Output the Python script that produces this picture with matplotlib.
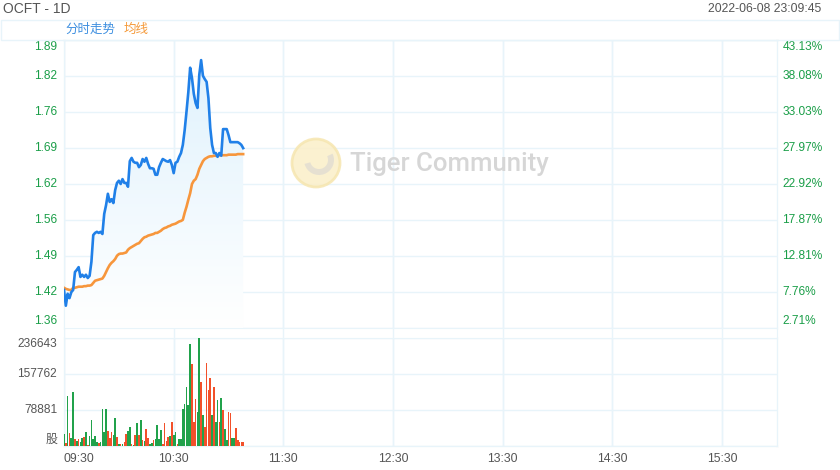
import numpy as np
import matplotlib.pyplot as plt
from matplotlib.patches import Circle, Rectangle, Wedge
from matplotlib.colors import LinearSegmentedColormap

plt.rcParams['font.family'] = ['Liberation Sans', 'Noto Sans CJK SC', 'DejaVu Sans']

# minutes since 09:30
minutes = list(range(99))

price = [1.430, 1.401, 1.423, 1.415, 1.426, 1.430, 1.463, 1.467, 1.472, 1.454,
         1.458, 1.454, 1.458, 1.452, 1.456, 1.482, 1.531, 1.535, 1.537, 1.535,
         1.537, 1.533, 1.570, 1.586, 1.607, 1.592, 1.597, 1.590, 1.614, 1.627,
         1.631, 1.625, 1.634, 1.627, 1.627, 1.620, 1.667, 1.673, 1.666, 1.664,
         1.664, 1.656, 1.660, 1.671, 1.666, 1.673, 1.662, 1.654, 1.654, 1.653,
         1.642, 1.642, 1.656, 1.664, 1.671, 1.669, 1.667, 1.666, 1.669, 1.660,
         1.645, 1.664, 1.666, 1.675, 1.682, 1.697, 1.724, 1.758, 1.794, 1.839,
         1.820, 1.791, 1.774, 1.765, 1.826, 1.853, 1.824, 1.818, 1.813, 1.783,
         1.728, 1.697, 1.682, 1.682, 1.675, 1.682, 1.677, 1.726, 1.726, 1.726,
         1.715, 1.702, 1.702, 1.702, 1.702, 1.702, 1.700, 1.697, 1.691]

avg_price = [1.434, 1.432, 1.431, 1.430, 1.430, 1.434, 1.434, 1.435, 1.436, 1.436,
             1.436, 1.437, 1.437, 1.438, 1.438, 1.439, 1.443, 1.447, 1.448, 1.449,
             1.450, 1.451, 1.456, 1.463, 1.470, 1.476, 1.480, 1.483, 1.487, 1.493,
             1.496, 1.497, 1.497, 1.498, 1.499, 1.504, 1.507, 1.509, 1.511, 1.513,
             1.515, 1.516, 1.520, 1.524, 1.527, 1.528, 1.530, 1.531, 1.532, 1.533,
             1.535, 1.535, 1.537, 1.539, 1.542, 1.544, 1.545, 1.547, 1.548, 1.550,
             1.551, 1.552, 1.554, 1.556, 1.557, 1.559, 1.572, 1.583, 1.596, 1.608,
             1.625, 1.631, 1.634, 1.642, 1.653, 1.660, 1.667, 1.671, 1.673, 1.675,
             1.676, 1.676, 1.677, 1.677, 1.677, 1.678, 1.678, 1.678, 1.678, 1.678,
             1.679, 1.679, 1.679, 1.679, 1.679, 1.680, 1.680, 1.680, 1.680]

volume = [26000, 6000, 110000, 28000, 18000, 118000, 15000, 11000, 15000, 9000,
          18000, 20000, 31000, 2000, 22000, 57000, 15000, 22000, 9000, 7000,
          9000, 81000, 31000, 81000, 33000, 18000, 31000, 24000, 61000, 20000,
          4000, 4000, 4000, 9000, 26000, 33000, 42000, 4000, 2000, 24000,
          50000, 24000, 57000, 13000, 11000, 37000, 18000, 4000, 7000, 13000,
          15000, 46000, 15000, 35000, 4000, 50000, 11000, 20000, 22000, 53000,
          24000, 31000, 4000, 15000, 15000, 81000, 92000, 129000, 90000, 224000,
          180000, 53000, 103000, 74000, 236643, 140000, 68000, 42000, 182000, 123000,
          149000, 68000, 129000, 53000, 101000, 53000, 105000, 79000, 37000, 13000,
          74000, 72000, 18000, 18000, 39000, 13000, 9000, 9000, 9000]

# 1 = red bar, 0 = green bar
vol_up = [0, 1, 0, 1, 0, 0, 1, 0, 1, 0, 0, 1, 0, 1, 0, 0, 0, 0, 0, 1,
          0, 0, 0, 0, 1, 1, 1, 0, 0, 1, 0, 1, 0, 1, 1, 0, 0, 1, 0, 1,
          0, 1, 0, 1, 0, 1, 1, 0, 0, 1,
          0, 0, 0, 0, 1, 1, 1, 1, 0, 1, 0, 0, 1, 0, 0, 0, 0, 0, 0, 0,
          1, 1, 1, 0, 0, 1, 0, 1, 1, 1, 1, 0, 1, 0, 0, 1, 0, 1, 0, 0,
          1, 1, 0, 0, 1, 1, 1, 1, 1]

price_labels = ['1.89', '1.82', '1.76', '1.69', '1.62', '1.56', '1.49', '1.42', '1.36']
pct_labels = ['43.13%', '38.08%', '33.03%', '27.97%', '22.92%', '17.87%', '12.81%', '7.76%', '2.71%']
vol_levels = [236643, 157762, 78881, 0]
vol_labels = ['236643', '157762', '78881', '股']
time_labels = ['09:30', '10:30', '11:30', '12:30', '13:30', '14:30', '15:30']

W, H = 840, 470
grid_c = '#e8f4fa'
green_txt = '#1a9e48'
grey_txt = '#555555'
blue = '#2080e8'
orange = '#f7963c'

fig = plt.figure(figsize=(W / 100, H / 100), dpi=100)
fig.patch.set_facecolor('white')


def px_axes(left, top, right, bottom, **kw):
    return fig.add_axes([left / W, 1 - bottom / H, (right - left) / W, (bottom - top) / H], **kw)


def edge_labels(a, values, labels, side, color, shift_px=6):
    # labels next to the grid lines; the outermost ones are moved inwards
    x = 0 if side == 'left' else 1
    dx = -5 if side == 'left' else 3.8
    ha = 'right' if side == 'left' else 'left'
    n = len(values)
    for i, (v, t) in enumerate(zip(values, labels)):
        dy = 0
        if i == 0:
            dy = -shift_px
        elif i == n - 1:
            dy = shift_px
        a.annotate(t, xy=(x, v), xycoords=('axes fraction', 'data'),
                   xytext=(dx, dy * 0.72), textcoords='offset points',
                   ha=ha, va='center', color=color, fontsize=8.6, annotation_clip=False)


# background frame with the time grid running through both panels
bg = px_axes(64, 40, 777, 446, zorder=-5)
bg.set_xlim(0, 390)
bg.set_xticks(range(0, 361, 60))
bg.set_yticks([])
bg.grid(True, axis='x', color=grid_c, lw=1)
bg.tick_params(length=0, labelbottom=False)
for s in bg.spines.values():
    s.set_color(grid_c)

ax = px_axes(64, 40, 777, 328)
vax = px_axes(64, 338, 777, 446)

pmin, pmax = 1.36, 1.89
tick_pos = np.linspace(pmax, pmin, len(price_labels))
for a in (ax, vax):
    a.set_xlim(0, 390)
    a.set_xticks(range(0, 361, 60))
    a.grid(True, color=grid_c, lw=1)
    a.set_axisbelow(True)
    a.patch.set_alpha(0)
    for s in a.spines.values():
        s.set_color(grid_c)
    a.tick_params(length=0, labelleft=False, labelbottom=False)

ax.set_ylim(pmin, pmax)
ax.set_yticks(tick_pos)
edge_labels(ax, tick_pos, price_labels, 'left', green_txt, 7)
edge_labels(ax, tick_pos, pct_labels, 'right', green_txt, 7)

# gradient fill under the price line
grad = np.linspace(1, 0, 256).reshape(-1, 1)
cmap = LinearSegmentedColormap.from_list('f', ['#ffffff', '#e0f2fd'])
poly = ax.fill_between(minutes, price, pmin, color='none')
img = ax.imshow(grad, cmap=cmap, aspect='auto', extent=[0, max(minutes), pmin, max(price)],
                origin='upper', zorder=1)
img.set_clip_path(poly.get_paths()[0], transform=ax.transData)
ax.set_xlim(0, 390)
ax.set_ylim(pmin, pmax)

ax.plot(minutes, avg_price, color=orange, lw=1.9, zorder=3, solid_joinstyle='round')
ax.plot(minutes, price, color=blue, lw=1.9, zorder=4, solid_joinstyle='round')

# volume
bar_cols = ['#f2502a' if u else '#21a24b' for u in vol_up]
vax.bar(minutes, volume, width=0.9, color=bar_cols, align='center', lw=0, zorder=3)
vax.set_ylim(0, vol_levels[0])
vax.set_yticks(vol_levels)
edge_labels(vax, vol_levels, vol_labels, 'left', grey_txt, 6)
vax.tick_params(labelbottom=True)
vax.set_xticklabels(time_labels, color=grey_txt, fontsize=8.8)
vax.tick_params(axis='x', pad=5)
vax.get_xticklabels()[0].set_ha('left')

# header
fig.text(3 / W, 1 - 9 / H, 'OCFT - 1D', fontsize=10, color=grey_txt, va='center', ha='left')
fig.text(821 / W, 1 - 9 / H, '2022-06-08 23:09:45', fontsize=8.7, color=grey_txt,
         va='center', ha='right')
fig.add_artist(Rectangle((0.5 / W, 1 - 40 / H), (W - 1.5) / W, 20 / H, transform=fig.transFigure,
                         fill=False, edgecolor=grid_c, lw=1))
fig.text(65 / W, 1 - 30 / H, '分时走势', fontsize=9, color='#3d8fe0', va='center', ha='left')
fig.text(124 / W, 1 - 30 / H, '均线', fontsize=9, color='#f59a3a', va='center', ha='left')

# watermark
logo_ax = fig.add_axes([(316 - 26) / W, 1 - (163 + 26) / H, 52 / W, 52 / H])
logo_ax.set_xlim(-26, 26)
logo_ax.set_ylim(-26, 26)
logo_ax.axis('off')
logo_ax.add_patch(Circle((0, 0), 24, facecolor='#fbefc8', edgecolor='#f6e6b0', lw=2, alpha=0.85))
logo_ax.add_patch(Wedge((3, 3), 15, 195, 25, width=6, facecolor='#e4dfd2', edgecolor='none', alpha=0.9))
fig.text(350 / W, 1 - 164 / H, 'Tiger Community', fontsize=18.5, color='#d6d6d6',
         family='Roboto', weight='medium', va='center', ha='left')

fig.savefig('out.png', dpi=100)
